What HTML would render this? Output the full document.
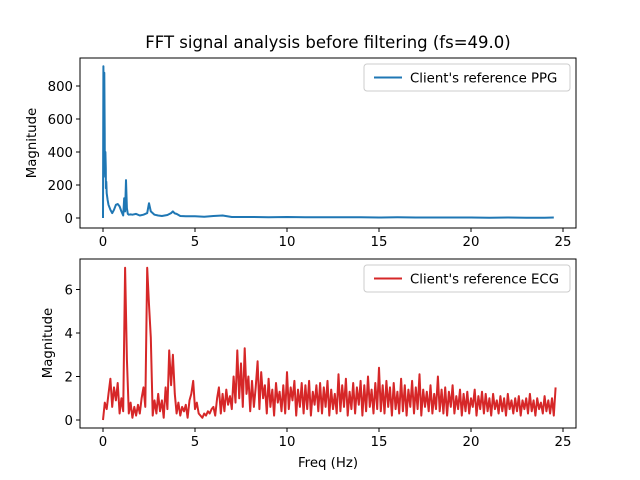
<!DOCTYPE html>
<html><head><meta charset="utf-8"><style>
body{margin:0;background:#fff;}
svg{display:block;font-family:"DejaVu Sans","Liberation Sans",sans-serif;}
</style></head><body>
<svg id="chart" width="640" height="480" viewBox="0 0 640 480">
<rect width="640" height="480" fill="#fff"/>
<text x="328" y="48" text-anchor="middle" font-size="16.5" fill="#000">FFT signal analysis before filtering (fs=49.0)</text>
<g id="top"></g>
<g id="bot"></g>
</svg>
<script>
const ppgFreq=[0,0.02,0.04,0.05,0.07,0.09,0.1,0.12,0.13,0.15,0.16,0.18,0.2,0.25,0.3,0.4,0.5,0.6,0.7,0.8,0.9,1.0,1.1,1.15,1.2,1.25,1.3,1.35,1.4,1.5,1.6,1.8,2.0,2.2,2.4,2.5,2.6,2.8,3.0,3.2,3.5,3.7,3.8,3.9,4.0,4.2,4.5,5.0,5.5,6.0,6.5,7.0,8,9,10,11,12,13,14,15,16,17,18,19,20,21,22,23,24,24.5];
const ppgMag=[0,920,600,300,880,520,350,250,400,300,180,220,150,110,80,50,30,50,80,85,70,40,15,120,40,230,60,25,20,22,20,25,15,20,30,90,40,20,15,12,18,30,40,28,25,12,10,10,8,12,15,6,6,5,6,4,5,4,4,3,4,3,3,3,3,2,3,2,2,3];
const ecgMag=[0,0.8,0.5,1.2,1.9,0.6,1.5,0.9,1.7,0.3,1.0,0.4,7.0,2.8,0.3,0.8,0.1,0.6,0.2,0.7,0.3,1.0,1.5,0.6,7.0,5.3,3.8,0.2,0.9,0.3,1.2,0.4,0.9,0.1,1.5,0.5,3.2,1.6,3.0,1.2,0.3,0.8,0.2,0.6,0.4,0.7,0.1,0.9,1.2,1.8,0.5,0.8,0.3,0.2,0.1,0.3,0.2,0.4,0.3,0.5,0.6,0.2,1.0,1.5,0.3,1.2,0.4,1.4,0.7,1.1,0.5,2.0,0.8,3.2,1.0,2.6,0.6,3.3,1.2,2.0,0.4,1.8,0.6,1.5,2.7,0.5,2.2,1.0,1.6,0.3,1.9,0.6,1.4,0.2,1.7,0.8,1.3,0.4,1.6,0.3,2.2,0.5,1.5,0.9,1.8,0.2,1.4,0.6,1.7,0.3,1.6,0.5,1.8,0.2,1.3,0.7,1.6,0.4,1.7,0.3,1.5,0.6,1.8,0.2,1.4,0.5,1.2,0.3,2.1,0.4,1.6,0.6,1.9,0.2,1.3,0.5,1.7,0.3,1.5,0.7,1.8,0.2,1.6,0.4,2.0,0.6,1.4,0.3,1.7,0.5,2.4,0.4,1.6,0.3,1.8,0.6,1.5,0.2,1.7,0.5,1.3,0.3,1.9,0.4,1.6,0.2,1.4,0.6,1.8,0.3,1.5,0.5,2.1,0.2,1.4,0.6,1.3,0.4,1.6,0.3,1.2,0.5,2.0,0.4,1.4,0.3,1.5,0.2,1.3,0.6,1.6,0.3,1.1,0.5,1.4,0.2,1.2,0.4,1.3,0.3,1.0,0.6,1.4,0.2,1.1,0.5,1.3,0.3,1.2,0.4,1.0,0.2,1.2,0.5,0.9,0.3,1.1,0.4,1.0,0.2,1.2,0.5,0.9,0.3,1.0,0.4,1.1,0.2,0.9,0.5,1.0,0.3,1.2,0.4,0.9,0.2,1.0,0.5,0.8,0.3,1.1,0.4,0.9,0.3,1.0,0.2,1.5];
const ecgStep=0.1;
const xTicks=[0,5,10,15,20,25];
const ppgTicks=[0,200,400,600,800];
const ecgTicks=[0,2,4,6];

const NS='http://www.w3.org/2000/svg';
function mk(tag,attrs,parent){const e=document.createElementNS(NS,tag);for(const k in attrs)e.setAttribute(k,attrs[k]);parent.appendChild(e);return e;}
const L=80,R=576;
const xs=v=>103+v*18.4;

function panel(g,top,bottom,yScale,yTicks,xv,yv,color,label,name){
  const pts=xv.map((x,i)=>xs(x).toFixed(1)+','+yScale(yv[i]).toFixed(1)).join(' ');
  const line=mk('polyline',{points:pts,fill:'none',stroke:color,'stroke-width':2,'stroke-linejoin':'round'},g);
  
  
  const fr=mk('rect',{x:L,y:top,width:R-L,height:bottom-top,fill:'none',stroke:'#000','stroke-width':1},g);
  
  
  xTicks.forEach(t=>{
    const x=xs(t);
    mk('line',{x1:x,x2:x,y1:bottom,y2:bottom+4,stroke:'#000'},g);
    const tx=mk('text',{x:x,y:bottom+18,'text-anchor':'middle','font-size':13.3,fill:'#000'},g);
    tx.textContent=t;
    
    
  });
  yTicks.forEach(t=>{
    const y=yScale(t);
    mk('line',{x1:L-4,x2:L,y1:y,y2:y,stroke:'#000'},g);
    const tx=mk('text',{x:L-7,y:y+5,'text-anchor':'end','font-size':13.3,fill:'#000'},g);
    tx.textContent=t;
    
    
  });
  const lg=mk('g',{},g);
  
  
  const w=206;
  mk('rect',{x:R-6-w,y:top+6,width:w,height:27,rx:3,fill:'#fff','fill-opacity':0.8,stroke:'#ccc'},lg);
  mk('line',{x1:R-w+4,x2:R-w+32,y1:top+19.5,y2:top+19.5,stroke:color,'stroke-width':2},lg);
  const lt=mk('text',{x:R-w+40,y:top+24.5,'font-size':13.3,fill:'#000'},lg);
  lt.textContent=label;
}
const gt=document.getElementById('top');
const yTop=v=>218-v*0.165;
panel(gt,58,228,yTop,ppgTicks,ppgFreq,ppgMag,'#1f77b4',"Client's reference PPG",'ppg');
const yl1=mk('text',{x:36,y:143,'text-anchor':'middle','font-size':13.3,transform:'rotate(-90 36 143)'},gt);
yl1.textContent='Magnitude';



const gb=document.getElementById('bot');
const yBot=v=>420-v*21.75;
const ecgFreq=ecgMag.map((_,i)=>i*ecgStep);
panel(gb,259,428,yBot,ecgTicks,ecgFreq,ecgMag,'#d62728',"Client's reference ECG",'ecg');
const yl2=mk('text',{x:52,y:343,'text-anchor':'middle','font-size':13.3,transform:'rotate(-90 52 343)'},gb);
yl2.textContent='Magnitude';


const xl=mk('text',{x:328,y:467,'text-anchor':'middle','font-size':13.3},gb);
xl.textContent='Freq (Hz)';


</script>
</body></html>
